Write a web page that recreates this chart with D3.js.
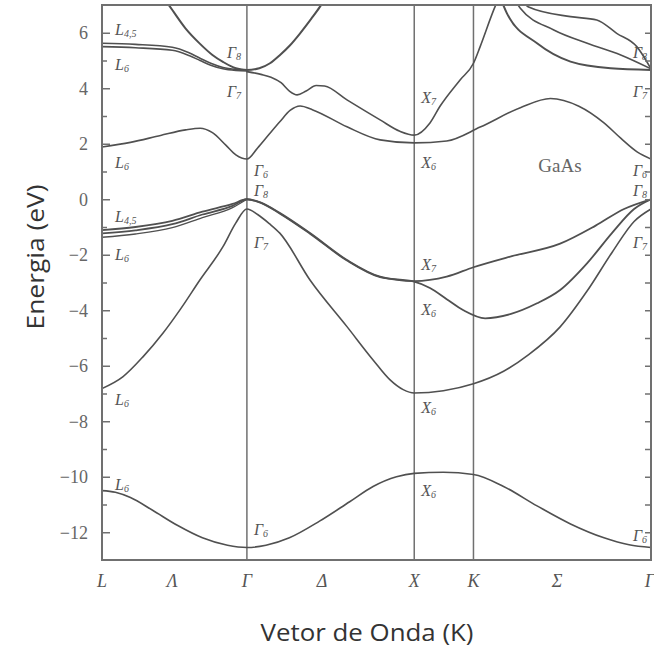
<!DOCTYPE html>
<html>
<head>
<meta charset="utf-8">
<script src="https://cdn.jsdelivr.net/npm/d3@7"></script>
<style>
  body { margin: 0; background: #fff; }
  svg { display: block; }
</style>
</head>
<body>
<svg id="chart" width="654" height="649"></svg>
<script>
// Symmetry points along the path L–Γ–X–K–Γ (units of 2π/a)
const symPoints = ["L", "Γ", "X", "K", "Γ"];
const symK = [0, 0.866, 1.866, 2.220, 3.281];
// Axis labels under the frame (points and the line names between them)
const pathLabels = ["L", "Λ", "Γ", "Δ", "X", "K", "Σ", "Γ"];
const pathLabelK = [0, 0.42, 0.866, 1.315, 1.866, 2.220, 2.72, 3.275];
const energyTicks = [6, 4, 2, 0, -2, -4, -6, -8, -10, -12];
const minorTicks = [5, 3, 1, -1, -3, -5, -7, -9, -11];

// Valence bands, [k, E(eV)]
const bandS = [[0,-10.5],[0.08,-10.56],[0.17,-10.75],[0.3,-11.2],[0.45,-11.75],[0.6,-12.2],[0.75,-12.47],[0.866,-12.55],
  [0.98,-12.47],[1.12,-12.2],[1.3,-11.6],[1.48,-10.9],[1.62,-10.35],[1.76,-10.0],[1.866,-9.88],[2.04,-9.84],[2.22,-9.92],
  [2.4,-10.35],[2.6,-11.05],[2.8,-11.7],[3.0,-12.2],[3.15,-12.45],[3.281,-12.55]];
const bandSplitOff = [[0,-6.82],[0.126,-6.39],[0.246,-5.67],[0.365,-4.82],[0.47,-3.95],[0.586,-2.9],[0.723,-1.71],[0.8,-0.85],
  [0.866,-0.35],[0.93,-0.55],[1.0,-0.88],[1.064,-1.23],[1.243,-2.91],[1.464,-4.59],[1.62,-5.79],[1.72,-6.5],[1.8,-6.86],[1.866,-6.98],
  [2.04,-6.9],[2.22,-6.65],[2.4,-6.2],[2.55,-5.6],[2.738,-4.6],[2.9,-3.3],[3.05,-1.9],[3.18,-0.8],[3.281,-0.35]];
const bandHeavy1 = [[0,-1.11],[0.2,-1.0],[0.42,-0.78],[0.6,-0.45],[0.78,-0.17],[0.866,0],
  [0.95,-0.12],[1.064,-0.5],[1.243,-1.22],[1.464,-2.19],[1.662,-2.79],[1.866,-2.95],
  [2.06,-2.79],[2.22,-2.45],[2.45,-2.05],[2.738,-1.6],[2.95,-0.95],[3.12,-0.35],[3.281,0]];
const bandHeavy2 = [[0,-1.23],[0.2,-1.12],[0.42,-0.9],[0.6,-0.55],[0.78,-0.24],[0.866,0],
  [0.95,-0.13],[1.064,-0.52],[1.243,-1.24],[1.464,-2.21],[1.662,-2.81],[1.866,-2.97],
  [1.96,-3.2],[2.06,-3.6],[2.16,-4.0],[2.29,-4.29],[2.44,-4.14],[2.6,-3.75],[2.738,-3.27],[2.9,-2.3],[3.05,-1.2],[3.18,-0.35],[3.281,0]];
const bandLight = [[0,-1.37],[0.2,-1.25],[0.42,-1.02],[0.6,-0.66],[0.78,-0.3],[0.866,0]];

// Conduction bands, [k, E(eV)]
const bandC1 = [[0,1.88],[0.17,2.05],[0.35,2.3],[0.5,2.5],[0.586,2.56],[0.66,2.4],[0.74,1.95],[0.8,1.6],[0.866,1.45],
  [0.93,1.85],[1.0,2.35],[1.064,2.8],[1.124,3.2],[1.184,3.36],[1.26,3.22],[1.464,2.61],[1.662,2.14],[1.866,2.03],
  [2.06,2.1],[2.26,2.6],[2.5,3.3],[2.68,3.63],[2.85,3.35],[3.0,2.75],[3.1,2.2],[3.2,1.7],[3.281,1.45]];
const bandC2 = [[0.866,4.6],[0.95,4.5],[1.01,4.4],[1.07,4.2],[1.12,3.9],[1.166,3.76],[1.22,3.9],[1.28,4.1],[1.33,4.08],
  [1.464,3.58],[1.662,2.86],[1.78,2.45],[1.866,2.31],[1.96,2.75],[2.02,3.35],[2.14,4.3],[2.22,4.9],[2.26,5.5],[2.349,6.94],[2.4,7.6]];
const bandC3a = [[0,5.62],[0.2,5.58],[0.42,5.48],[0.52,5.28],[0.586,5.08],[0.65,4.9],[0.723,4.75],[0.8,4.68],[0.866,4.66]];
const bandC3b = [[0,5.5],[0.2,5.46],[0.42,5.37],[0.52,5.18],[0.586,5.0],[0.65,4.83],[0.723,4.7],[0.8,4.64],[0.866,4.62]];
const bandC4 = [[0.35,7.4],[0.406,6.94],[0.5,6.15],[0.586,5.6],[0.66,5.2],[0.723,4.95],[0.8,4.72],[0.866,4.66],
  [0.94,4.72],[1.004,4.9],[1.064,5.2],[1.124,5.55],[1.184,5.98],[1.25,6.5],[1.303,6.94],[1.35,7.4]];
const bandT1 = [[2.36,7.6],[2.42,6.7],[2.6,5.62],[2.8,4.96],[3.04,4.72],[3.281,4.66]];
const bandT2 = [[2.45,7.4],[2.5,6.88],[2.7,6.1],[2.9,5.62],[3.1,5.2],[3.281,4.7]];
const bandT3 = [[2.5,7.3],[2.546,6.94],[2.8,6.58],[2.957,6.46],[3.076,5.98],[3.196,5.5],[3.281,4.7]];

const bands = [
  {d: bandS, w: 1.6}, {d: bandSplitOff, w: 1.6}, {d: bandHeavy1, w: 1.8}, {d: bandHeavy2, w: 1.8},
  {d: bandLight, w: 1.4}, {d: bandC1, w: 1.6}, {d: bandC2, w: 1.6}, {d: bandC3a, w: 1.6}, {d: bandC3b, w: 1.6},
  {d: bandC4, w: 2.0}, {d: bandT1, w: 2.0}, {d: bandT2, w: 1.6}, {d: bandT3, w: 1.6}
];

// Point labels: [letter, subscript, symmetry index, energy of baseline, side]
const pointLabels = [
  ["L","4,5",0,5.92,"r"],["L","6",0,4.66,"r"],["L","6",0,1.13,"r"],["L","4,5",0,-0.82,"r"],["L","6",0,-2.19,"r"],
  ["L","6",0,-7.42,"r"],["L","6",0,-10.48,"r"],
  ["Γ","8",1,5.1,"l"],["Γ","7",1,3.7,"l"],["Γ","6",1,0.85,"r"],["Γ","8",1,0.1,"r"],["Γ","7",1,-1.75,"r"],["Γ","6",1,-12.1,"r"],
  ["X","7",2,3.47,"r"],["X","6",2,1.13,"r"],["X","7",2,-2.55,"r"],["X","6",2,-4.17,"r"],["X","6",2,-7.7,"r"],["X","6",2,-10.7,"r"],
  ["Γ","8",4,5.08,"l"],["Γ","7",4,3.68,"l"],["Γ","6",4,0.85,"l"],["Γ","8",4,0.1,"l"],["Γ","7",4,-1.76,"l"],["Γ","6",4,-12.3,"l"]
];
const material = "GaAs";

const svg = d3.select("#chart");
const x = d3.scaleLinear().domain([0, 3.281]).range([102, 651]);
const y = d3.scaleLinear().domain([-13, 7]).range([560, 5]);
const ink = "#505050";
const frameInk = "#707070";
const serif = "'Liberation Serif','DejaVu Serif',serif";

svg.append("defs").append("clipPath").attr("id", "plotClip")
  .append("rect").attr("x", x(0)).attr("y", y(7)).attr("width", x(3.281) - x(0)).attr("height", y(-13) - y(7));

// Vertical lines at interior symmetry points
svg.append("g").selectAll("line").data(symK.slice(1, 4)).join("line")
  .attr("x1", d => x(d)).attr("x2", d => x(d)).attr("y1", y(7)).attr("y2", y(-13))
  .attr("stroke", frameInk).attr("stroke-width", 1.5);

// Bands
const line = d3.line().x(d => x(d[0])).y(d => y(d[1])).curve(d3.curveMonotoneX);
svg.append("g").attr("clip-path", "url(#plotClip)").selectAll("path").data(bands).join("path")
  .attr("d", b => line(b.d)).attr("fill", "none").attr("stroke", ink).attr("stroke-width", b => b.w)
  .attr("stroke-linejoin", "round").attr("stroke-linecap", "round");

// Energy axes: inward ticks on both sides
const fmt = d => d < 0 ? "\u2212" + Math.abs(d) : String(d);
const left = svg.append("g").attr("transform", `translate(${x(0)},0)`)
  .call(d3.axisLeft(y).tickValues(energyTicks).tickSize(-8).tickPadding(14).tickFormat(fmt));
left.select(".domain").remove();
left.selectAll("line").attr("stroke", frameInk).attr("stroke-width", 1.5);
left.selectAll("text").attr("font-family", serif).attr("font-size", 18).attr("fill", "#666");
const leftMinor = svg.append("g").attr("transform", `translate(${x(0)},0)`)
  .call(d3.axisLeft(y).tickValues(minorTicks).tickSize(-5).tickFormat(""));
leftMinor.select(".domain").remove();
leftMinor.selectAll("line").attr("stroke", frameInk).attr("stroke-width", 1.5);

const right = svg.append("g").attr("transform", `translate(${x(3.281)},0)`)
  .call(d3.axisRight(y).tickValues(energyTicks.concat(minorTicks)).tickSize(-6).tickFormat(""));
right.select(".domain").remove();
right.selectAll("line").attr("stroke", frameInk).attr("stroke-width", 1.5);

// Frame
svg.append("rect").attr("x", x(0)).attr("y", y(7)).attr("width", x(3.281) - x(0)).attr("height", y(-13) - y(7))
  .attr("fill", "none").attr("stroke", frameInk).attr("stroke-width", 2);

// Path labels below the frame
svg.append("g").selectAll("text").data(pathLabels).join("text")
  .attr("x", (d, i) => x(pathLabelK[i])).attr("y", y(-13) + 27)
  .attr("text-anchor", "middle").attr("font-family", serif).attr("font-style", "italic")
  .attr("font-size", 18).attr("fill", "#555").text(d => d);

// Labels at the symmetry points
const lab = svg.append("g").selectAll("text").data(pointLabels).join("text")
  .attr("x", d => d[4] === "r" ? x(symK[d[2]]) + (d[2] === 0 ? 13 : 7) : x(symK[d[2]]) - (d[2] === 4 ? 18 : 20))
  .attr("y", d => y(d[3]))
  .attr("font-family", serif).attr("font-style", "italic").attr("font-size", 16).attr("fill", "#555");
lab.append("tspan").text(d => d[0]);
lab.append("tspan").attr("font-size", 10).attr("dy", 2).text(d => d[1]);

svg.append("text").attr("x", 560).attr("y", y(1.0)).attr("text-anchor", "middle")
  .attr("font-family", serif).attr("font-size", 19).attr("fill", "#666").text(material);

// Axis titles
svg.append("text").attr("transform", `translate(44,257) rotate(-90)`)
  .attr("text-anchor", "middle").attr("font-family", "'Open Sans',sans-serif").attr("font-size", 23)
  .attr("textLength", 145).attr("lengthAdjust", "spacingAndGlyphs")
  .attr("fill", "#333").text("Energia (eV)");
svg.append("text").attr("x", 367).attr("y", 641).attr("text-anchor", "middle")
  .attr("font-family", "'Open Sans',sans-serif").attr("font-size", 23)
  .attr("textLength", 213).attr("lengthAdjust", "spacingAndGlyphs")
  .attr("fill", "#333").text("Vetor de Onda (K)");
</script>
</body>
</html>
